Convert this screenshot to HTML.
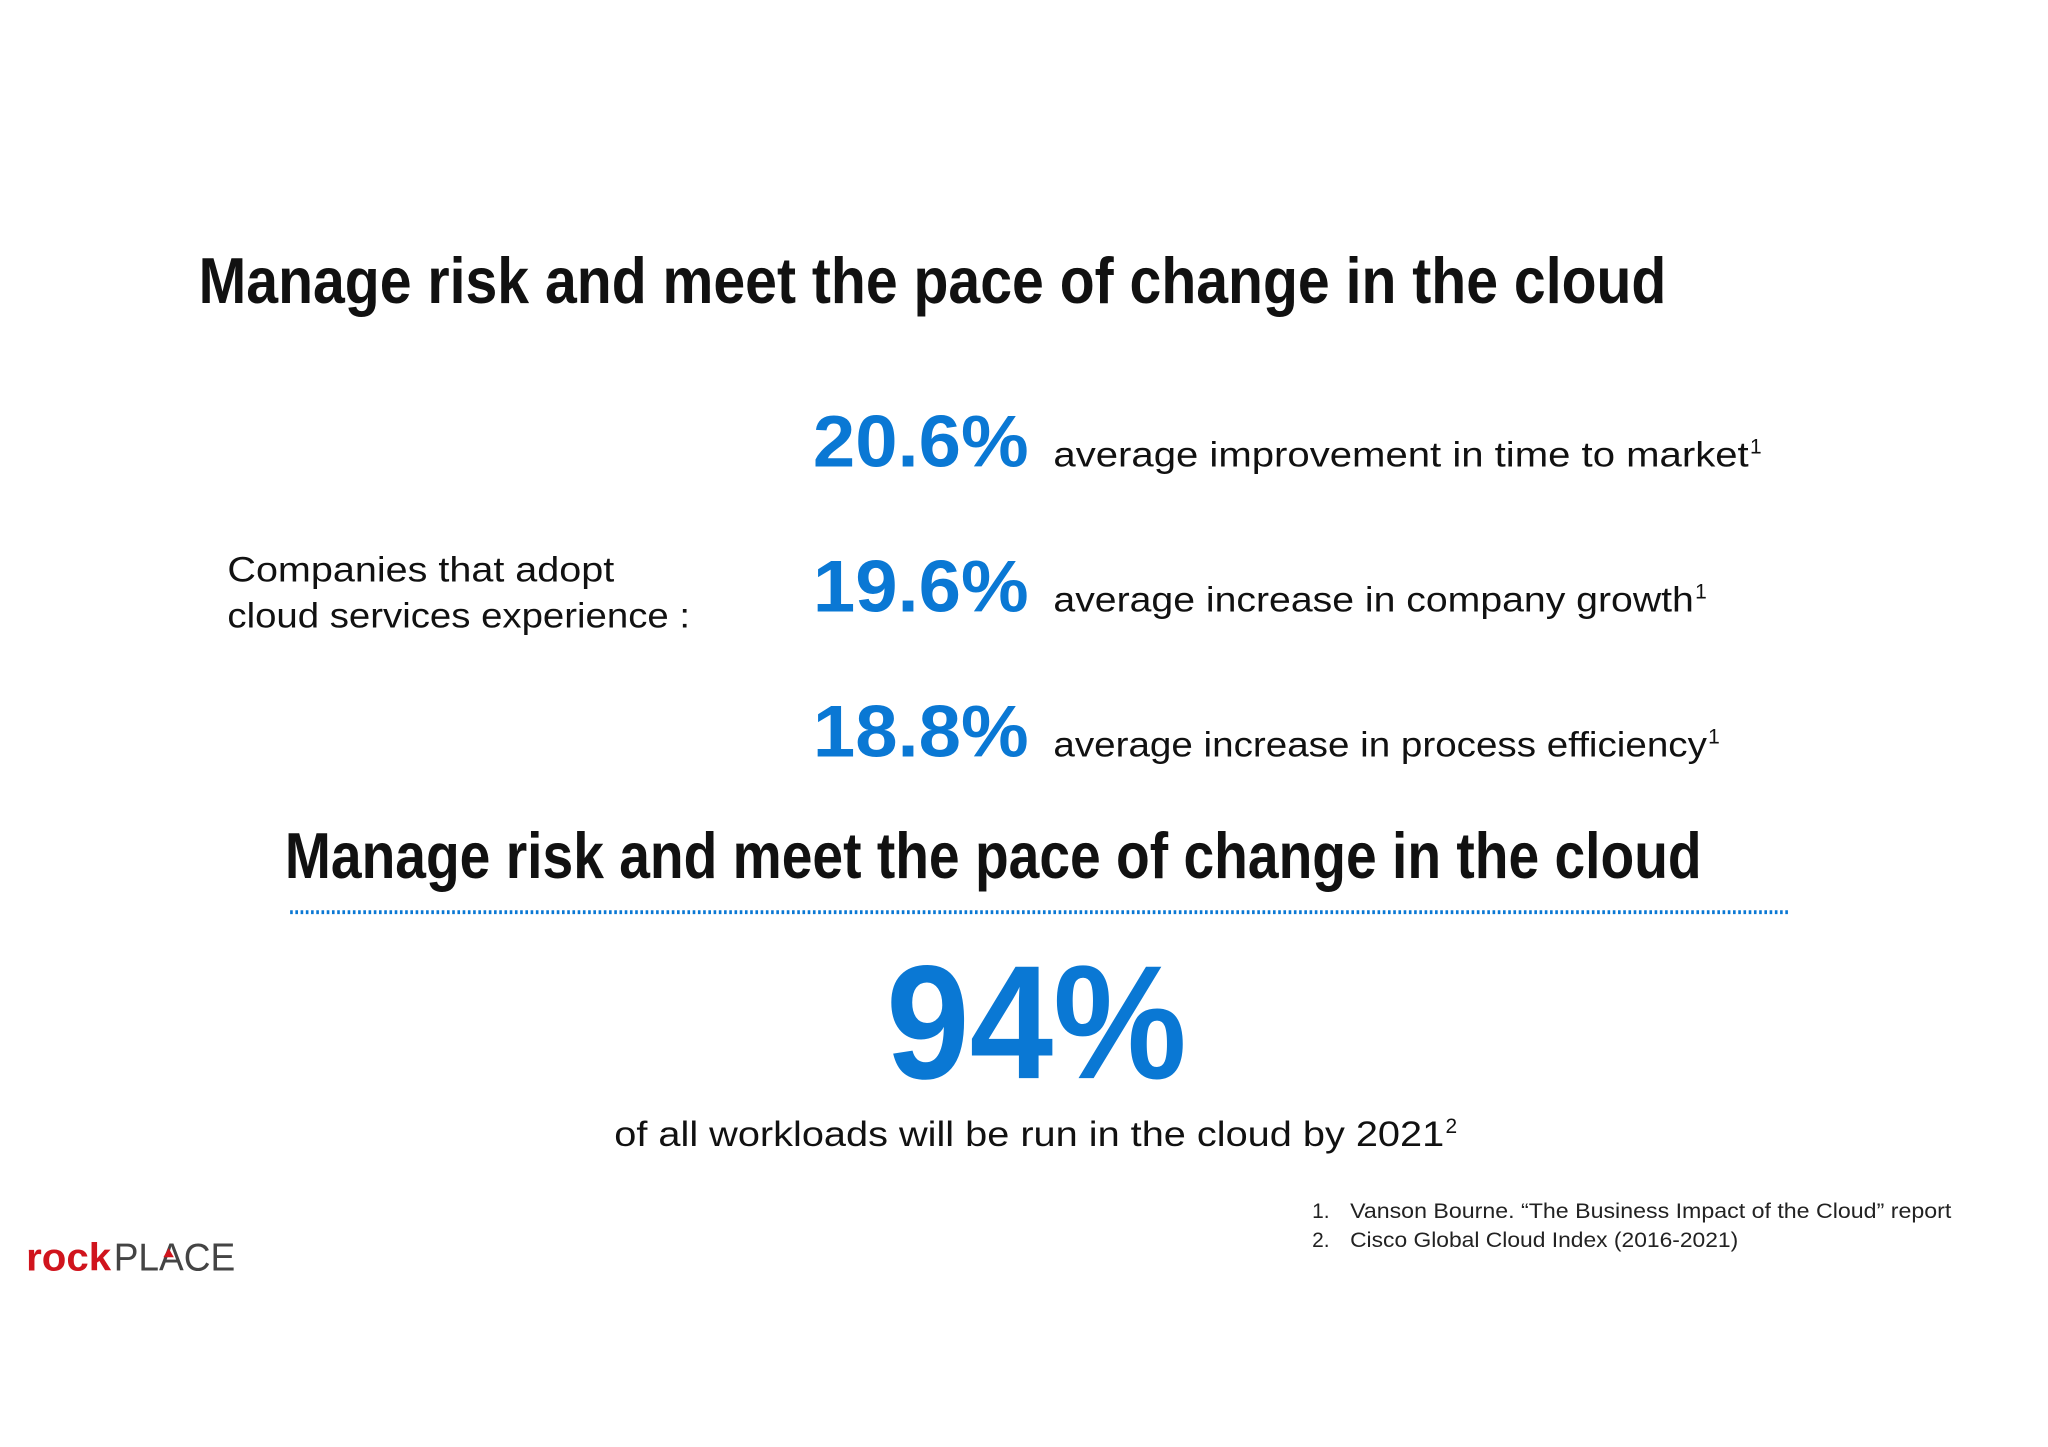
<!DOCTYPE html>
<html><head><meta charset="utf-8"><style>
html,body{margin:0;padding:0;background:#fff;}
svg{display:block;}
text{font-family:"Liberation Sans","DejaVu Sans",sans-serif;}
</style></head><body>
<svg width="2048" height="1447" viewBox="0 0 1567 1107.2" preserveAspectRatio="none" xmlns="http://www.w3.org/2000/svg">
<rect width="1567" height="1108" fill="#fff"/>
<text x="152" y="232" font-size="50" font-weight="bold" fill="#111" textLength="1123" lengthAdjust="spacingAndGlyphs">Manage risk and meet the pace of change in the cloud</text>

<text x="174" y="445" font-size="27" fill="#111" textLength="296" lengthAdjust="spacingAndGlyphs">Companies that adopt</text>
<text x="174" y="480" font-size="27" fill="#111" textLength="354" lengthAdjust="spacingAndGlyphs">cloud services experience :</text>

<g>
<text x="622" y="357" font-size="56" font-weight="bold" fill="#0a78d4" textLength="165" lengthAdjust="spacingAndGlyphs">20.6%</text>
<text x="806" y="357" font-size="27" fill="#111" textLength="532" lengthAdjust="spacingAndGlyphs">average improvement in time to market</text>
<text x="1339" y="347" font-size="16" fill="#111">1</text>
</g>
<g>
<text x="622" y="468" font-size="56" font-weight="bold" fill="#0a78d4" textLength="165" lengthAdjust="spacingAndGlyphs">19.6%</text>
<text x="806" y="468" font-size="27" fill="#111" textLength="490" lengthAdjust="spacingAndGlyphs">average increase in company growth</text>
<text x="1297" y="458" font-size="16" fill="#111">1</text>
</g>
<g>
<text x="622" y="579" font-size="56" font-weight="bold" fill="#0a78d4" textLength="165" lengthAdjust="spacingAndGlyphs">18.8%</text>
<text x="806" y="579" font-size="27" fill="#111" textLength="500" lengthAdjust="spacingAndGlyphs">average increase in process efficiency</text>
<text x="1307" y="569" font-size="16" fill="#111">1</text>
</g>

<text x="218" y="672" font-size="50" font-weight="bold" fill="#111" textLength="1084" lengthAdjust="spacingAndGlyphs">Manage risk and meet the pace of change in the cloud</text>
<line x1="222" y1="698" x2="1370" y2="698" stroke="#0a78d4" stroke-width="3" stroke-dasharray="2,2"/>

<text x="678" y="825" font-size="124" font-weight="bold" fill="#0a78d4" textLength="230" lengthAdjust="spacingAndGlyphs">94%</text>
<text x="470" y="877" font-size="27" fill="#111" textLength="635" lengthAdjust="spacingAndGlyphs">of all workloads will be run in the cloud by 2021</text>
<text x="1106" y="867" font-size="16" fill="#111">2</text>

<g font-size="16" fill="#222">
<text x="1004" y="932">1.</text>
<text x="1033" y="932" textLength="460" lengthAdjust="spacingAndGlyphs">Vanson Bourne. “The Business Impact of the Cloud” report</text>
<text x="1004" y="954">2.</text>
<text x="1033" y="954" textLength="297" lengthAdjust="spacingAndGlyphs">Cisco Global Cloud Index (2016-2021)</text>
</g>

<g>
<text x="20" y="972" font-size="30" font-weight="bold" fill="#d0141d" textLength="65" lengthAdjust="spacingAndGlyphs">rock</text>
<text x="87" y="972" font-size="30" fill="#444" textLength="93" lengthAdjust="spacingAndGlyphs">PLACE</text>
<polygon points="125,962 129,955 133,962" fill="#d0141d"/>
</g>
</svg>
</body></html>
